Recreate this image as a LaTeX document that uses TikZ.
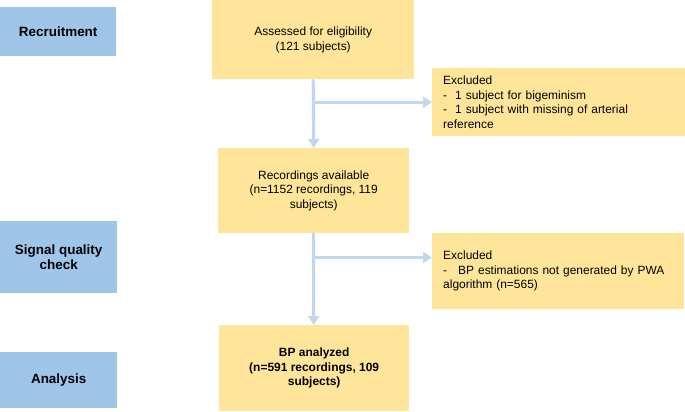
\documentclass[tikz,border=0pt]{standalone}
\usepackage{fontspec}
\setmainfont{Liberation Sans}
\usetikzlibrary{arrows.meta,calc}
\definecolor{stageblue}{HTML}{9FC5E8}
\definecolor{boxyellow}{HTML}{FFE599}
\definecolor{arrowblue}{HTML}{BFD7EF}
\begin{document}
\begin{tikzpicture}[x=1bp,y=-1bp,
  every node/.style={font=\fontsize{12}{14.5}\selectfont, inner sep=0pt, text=black},
  stagebox/.style={fill=stageblue, draw=none, anchor=north west, align=center, font=\fontsize{13.5}{15}\selectfont\bfseries},
  mainbox/.style={fill=boxyellow, draw=none, anchor=north west, align=center},
  exclbox/.style={fill=boxyellow, draw=none, anchor=north west, align=left, inner xsep=11bp},
  flow/.style={draw=arrowblue, line width=3bp, -{Triangle[width=11bp,length=9bp]}}
]
\useasboundingbox (0,0) rectangle (685,411);

% stage labels
\node[stagebox, minimum width=116bp, minimum height=49bp] (recr) at (0,7) {Recruitment};
\node[stagebox, minimum width=117bp, minimum height=72bp] (sig) at (0,221) {Signal quality\\check};
\node[stagebox, minimum width=117bp, minimum height=56bp] (ana) at (0,352) {Analysis};

% main flow boxes
\node[mainbox, minimum width=202bp, minimum height=79bp] (b1) at (212,0) {Assessed for eligibility\\(121 subjects)};
\node[mainbox, minimum width=191bp, minimum height=85bp] (b2) at (218,148) {Recordings available\\(n=1152 recordings, 119\\subjects)};
\node[mainbox, minimum width=190bp, minimum height=86bp, font=\fontsize{12}{14.5}\selectfont\bfseries] (b3) at (219,325) {BP analyzed\\(n=591 recordings, 109\\subjects)};

% exclusion boxes
\node[exclbox, text width=231bp, minimum height=68bp] (e1) at (432,68) {Excluded\\-\hspace{8bp}1 subject for bigeminism\\-\hspace{8bp}1 subject with missing of arterial\\reference};
\node[exclbox, text width=230bp, minimum height=76bp] (e2) at (432,233) {Excluded\\-\hspace{11bp}BP estimations not generated by PWA\\algorithm (n=565)};

% connectors
\draw[flow] (b1.south) -- (b2.north);
\draw[flow] (b2.south) -- (b2.south |- b3.north);
\coordinate (j1) at ($(b1.south |- e1.west)$);
\draw[flow] (j1) -- (e1.west);
\coordinate (j2) at ($(b2.south) + (0,24)$);
\draw[flow] (j2) -- (j2 -| e2.west);
\end{tikzpicture}
\end{document}
